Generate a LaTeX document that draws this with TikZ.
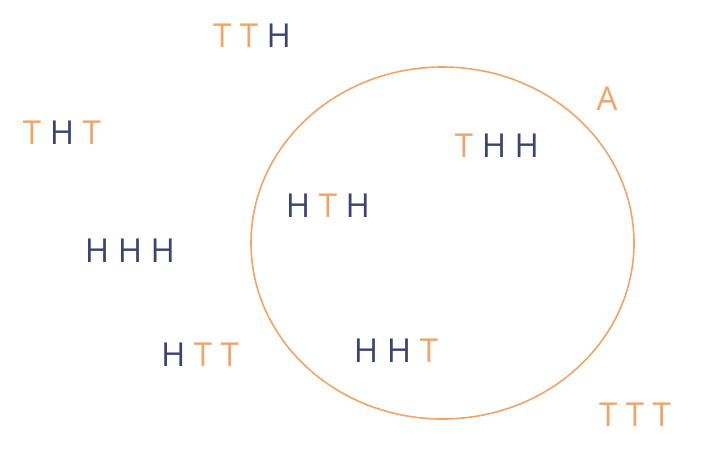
\documentclass[tikz,border=0pt]{standalone}
\usepackage{fontspec}
\setmainfont{Open Sans}
\definecolor{orng}{HTML}{F0A468}
\definecolor{navy}{HTML}{3A4470}
\newcommand{\Tt}{\textcolor{orng}{T}}
\newcommand{\Hh}{\textcolor{navy}{H}}
\begin{document}
\begin{tikzpicture}[x=1pt,y=-1pt,
  lbl/.style={anchor=base,inner sep=0pt,font=\fontsize{33}{36}\selectfont}]
\useasboundingbox (0,0) rectangle (719,460);
\draw[orng,line width=1.6pt] (442.5,243) ellipse [x radius=191.5, y radius=176];
\node[lbl] (tth) at (252,48) {\Tt{} \Tt{} \Hh};
\node[lbl] (tht) at (62,144) {\Tt{} \Hh{} \Tt};
\node[lbl] (hhh) at (130,262) {\Hh{} \Hh{} \Hh};
\node[lbl] (htt) at (200,366) {\Hh{} \Tt{} \Tt};
\node[lbl] (hth) at (328,217) {\Hh{} \Tt{} \Hh};
\node[lbl] (thh) at (497,157) {\Tt{} \Hh{} \Hh};
\node[lbl] (hht) at (396,362) {\Hh{} \Hh{} \Tt};
\node[lbl,text=orng] (a) at (607,110) {A};
\node[lbl] (ttt) at (635,426) {\Tt{} \Tt{} \Tt};
\end{tikzpicture}
\end{document}
